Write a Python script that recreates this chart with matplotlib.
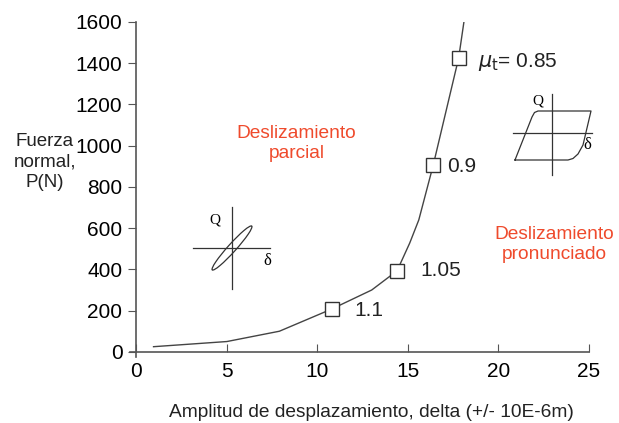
import numpy as np
import matplotlib.pyplot as plt
from matplotlib.patches import Ellipse

plt.rcParams["font.family"] = ["Liberation Sans", "DejaVu Sans"]

# curve through the measured points
curve_x = [0.95, 5.0, 7.9, 10.8, 13.0, 14.4, 15.1, 15.6, 16.4, 17.8, 18.1]
curve_y = [25, 50, 100, 208, 300, 393, 528, 640, 907, 1425, 1605]

# marked points with friction coefficient
mark_x = [10.8, 14.4, 16.4, 17.8]
mark_y = [208, 393, 907, 1425]
mark_labels = ["1.1", "1.05", "0.9", r"$\mu_{\mathrm{t}}$= 0.85"]
label_offsets = [(16, -1), (17, 0), (10, -1), (14, -3)]

xticks = [0, 5, 10, 15, 20, 25]
yticks = [0, 200, 400, 600, 800, 1000, 1200, 1400, 1600]

red = "#ef4a2c"
gray = "#555555"

fig = plt.figure(figsize=(6.19, 4.23), dpi=100)
ax = fig.add_axes([130 / 619, 66 / 423, 459 / 619, 335 / 423])

ax.plot(curve_x, curve_y, color="#444444", lw=1.0, clip_on=True)
ax.plot(mark_x, mark_y, "s", ms=9.5, mfc="white", mec="#333333", mew=1.0)
for x, y, lab, off in zip(mark_x, mark_y, mark_labels, label_offsets):
    ax.annotate(lab, (x, y), xytext=off, textcoords="offset points",
                ha="left", va="center", fontsize=15, color="#222222")

ax.set_xlim(-0.35, 25)
ax.set_ylim(-25, 1600)
ax.spines["top"].set_visible(False)
ax.spines["right"].set_visible(False)
ax.spines["left"].set_position(("data", 0))
ax.spines["bottom"].set_position(("data", 0))
for s in ["left", "bottom"]:
    ax.spines[s].set_color(gray)
    ax.spines[s].set_linewidth(1.2)
ax.set_xticks(xticks)
ax.set_yticks(yticks)
ax.tick_params(axis="x", direction="in", length=6, color=gray, labelsize=15, pad=7)
ax.tick_params(axis="y", direction="out", length=6, color=gray, labelsize=15, pad=4)

ax.text(8.85, 1010, "Deslizamiento\nparcial", color=red, fontsize=13.8,
        ha="center", va="center", linespacing=1.25)
ax.text(23.1, 520, "Deslizamiento\npronunciado", color=red, fontsize=13.8,
        ha="center", va="center", linespacing=1.25)

fig.text(45 / 619, 1 - 162 / 423, "Fuerza\nnormal,\nP(N)", fontsize=13.5,
         ha="center", va="center", linespacing=1.3, color="#222222")
fig.text(371 / 619, 1 - 412 / 423, "Amplitud de desplazamiento, delta (+/- 10E-6m)",
         fontsize=13.8, ha="center", va="center", color="#222222")

# small hysteresis sketches, drawn in picture pixel coordinates
serif = ["Liberation Serif", "DejaVu Serif"]

ins1 = fig.add_axes([188 / 619, 1 - 295 / 423, 90 / 619, 95 / 423])
ins1.set_xlim(188, 278)
ins1.set_ylim(295, 200)
ins1.axis("off")
ins1.plot([193, 270], [248, 248], color="#333333", lw=0.9)
ins1.plot([232, 232], [207, 289], color="#333333", lw=0.9)
ins1.add_patch(Ellipse((232, 248), 59, 8, angle=-48, fill=False,
                       ec="#333333", lw=0.9))
ins1.text(215, 220, "Q", fontsize=11, ha="center", va="center", family=serif)
ins1.text(267, 261, "δ", fontsize=12, ha="center", va="center", family=serif)

ins2 = fig.add_axes([508 / 619, 1 - 180 / 423, 90 / 619, 95 / 423])
ins2.set_xlim(508, 598)
ins2.set_ylim(180, 85)
ins2.axis("off")
ins2.plot([513, 592], [133, 133], color="#333333", lw=0.9)
ins2.plot([552, 552], [94, 175], color="#333333", lw=0.9)
loop_x = [515, 532, 534.5, 538, 591, 583, 578, 573, 568, 515]
loop_y = [160, 117, 112.5, 111, 111, 145, 154, 158.5, 160, 160]
ins2.plot(loop_x, loop_y, color="#333333", lw=0.9)
ins2.text(538, 101, "Q", fontsize=11, ha="center", va="center", family=serif)
ins2.text(587, 145, "δ", fontsize=12, ha="center", va="center", family=serif)

fig.savefig("out.png", dpi=100)
